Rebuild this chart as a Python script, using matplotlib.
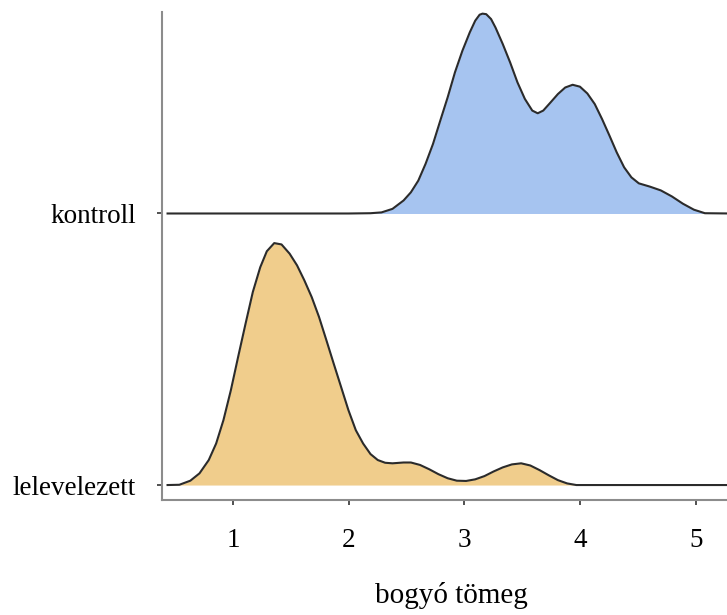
import numpy as np
import matplotlib.pyplot as plt

# Ridgeline data: x = berry mass, h = ridge height (1 = spacing between rows)
groups = ["lelevelezett", "kontroll"]
fillColors = ["#f0cd8c", "#a6c4f0"]

lelevX = [0.435, 0.537, 0.632, 0.711, 0.791, 0.855, 0.918, 0.982, 1.045, 1.109, 1.172,
          1.236, 1.293, 1.357, 1.420, 1.490, 1.554, 1.617, 1.681, 1.744, 1.808, 1.871,
          1.935, 1.998, 2.062, 2.125, 2.189, 2.252, 2.316, 2.379, 2.475, 2.538, 2.617,
          2.697, 2.776, 2.856, 2.935, 3.015, 3.094, 3.174, 3.253, 3.332, 3.411, 3.491,
          3.570, 3.650, 3.729, 3.809, 3.888, 3.968, 4.095, 5.300]
lelevH = [0.000, 0.001, 0.016, 0.043, 0.092, 0.153, 0.239, 0.349, 0.472, 0.594, 0.711,
          0.802, 0.861, 0.891, 0.886, 0.852, 0.809, 0.754, 0.692, 0.619, 0.533, 0.447,
          0.361, 0.276, 0.202, 0.153, 0.114, 0.092, 0.082, 0.080, 0.083, 0.083, 0.074,
          0.058, 0.040, 0.025, 0.016, 0.015, 0.021, 0.033, 0.050, 0.065, 0.076, 0.080,
          0.072, 0.055, 0.036, 0.018, 0.006, 0.000, 0.000, 0.000]

kontrollX = [0.435, 1.500, 2.000, 2.189, 2.284, 2.379, 2.475, 2.538, 2.602, 2.665, 2.729,
             2.792, 2.856, 2.919, 2.983, 3.047, 3.094, 3.132, 3.157, 3.189, 3.231, 3.269,
             3.332, 3.396, 3.459, 3.523, 3.587, 3.634, 3.682, 3.745, 3.809, 3.872, 3.936,
             3.999, 4.063, 4.127, 4.190, 4.254, 4.317, 4.381, 4.444, 4.508, 4.603, 4.698,
             4.793, 4.889, 4.984, 5.079, 5.300]
kontrollH = [0.000, 0.000, 0.000, 0.001, 0.004, 0.017, 0.048, 0.078, 0.121, 0.183, 0.256,
             0.342, 0.428, 0.520, 0.599, 0.667, 0.710, 0.732, 0.736, 0.734, 0.716, 0.685,
             0.624, 0.556, 0.483, 0.422, 0.379, 0.369, 0.379, 0.409, 0.440, 0.464, 0.474,
             0.467, 0.442, 0.403, 0.348, 0.287, 0.225, 0.170, 0.133, 0.111, 0.099, 0.085,
             0.063, 0.036, 0.014, 0.001, 0.000]

xTicks = [1, 2, 3, 4, 5]
xLabel = "bogyó tömeg"

plt.rcParams['font.family'] = ['Liberation Serif', 'DejaVu Serif']

fig = plt.figure(figsize=(7.27, 6.15), dpi=100)
ax = fig.add_axes([162/727, 1-500/615, 565/727, 488/615])

curves = [(lelevX, lelevH), (kontrollX, kontrollH)]
for i in range(len(groups)-1, -1, -1):
    x = np.array(curves[i][0])
    h = np.array(curves[i][1])
    ax.fill_between(x, i, i+h, color=fillColors[i], lw=0, zorder=2+2*(1-i))
    ax.plot(x, i+h, color="#2b2b2b", lw=1.5, zorder=3+2*(1-i), clip_on=False,
            solid_joinstyle="round")

ax.set_xlim(0.387, 5.27)
ax.set_ylim(-0.0551, 1.742)

ax.set_yticks(range(len(groups)))
ax.set_yticklabels(groups)
ax.set_xticks(xTicks)
ax.set_xticklabels([str(t) for t in xTicks])

ax.tick_params(axis="y", length=3.6, width=1.2, color="#333333", pad=15, labelsize=19.5)
ax.tick_params(axis="x", length=3.6, width=1.2, color="#333333", pad=16.5, labelsize=19.5)

for s in ["top", "right"]:
    ax.spines[s].set_visible(False)
for s in ["left", "bottom"]:
    ax.spines[s].set_color("#8c8c8c")
    ax.spines[s].set_linewidth(1.5)

ax.set_xlabel(xLabel, fontsize=21)
ax.xaxis.set_label_coords(0.513, -0.168)

fig.savefig("out.png", dpi=100)
